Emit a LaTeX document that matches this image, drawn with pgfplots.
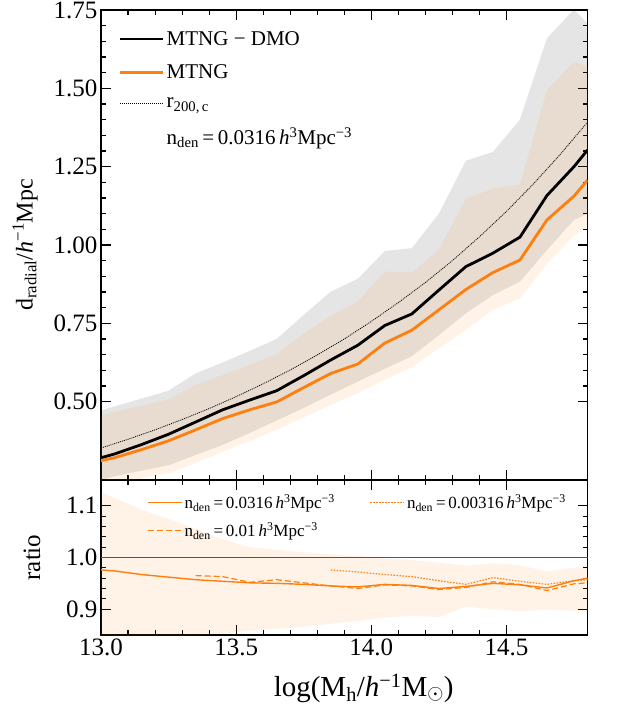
\documentclass[border=0pt]{standalone}
\usepackage{fontspec}
\setmainfont{Liberation Serif}
\usepackage{pgfplots}
\usepackage{pgfplotstable}
\pgfplotsset{compat=1.18}
\usepgfplotslibrary{fillbetween}

\definecolor{mtngorange}{RGB}{255,127,14}
\definecolor{unitline}{RGB}{85,85,85}

\newcommand{\hinv}{\textit{h}\textsuperscript{−1}}
\newcommand{\nden}[1]{n\textsubscript{den}\,=\,#1\,\textit{h}\textsuperscript{3}Mpc\textsuperscript{−3}}

% median radial distance and 16/84 percentiles per halo-mass bin
\pgfplotstableread{
x      dmo    dmolo  dmohi  mtng   mtnglo mtnghi
13.00  0.321  0.250  0.472  0.312  0.225  0.455
13.05  0.333  0.262  0.485  0.321  0.235  0.468
13.15  0.363  0.280  0.510  0.347  0.255  0.487
13.25  0.396  0.297  0.535  0.375  0.272  0.507
13.35  0.435  0.330  0.590  0.410  0.305  0.553
13.45  0.474  0.362  0.625  0.446  0.340  0.585
13.55  0.505  0.400  0.662  0.474  0.375  0.618
13.65  0.535  0.440  0.700  0.499  0.410  0.652
13.75  0.583  0.480  0.777  0.545  0.450  0.718
13.85  0.633  0.523  0.851  0.590  0.490  0.773
13.95  0.680  0.564  0.892  0.620  0.527  0.820
14.05  0.743  0.605  0.981  0.687  0.570  0.915
14.15  0.780  0.645  0.990  0.728  0.610  0.912
14.25  0.856  0.712  1.100  0.793  0.670  0.985
14.35  0.931  0.782  1.269  0.858  0.729  1.148
14.45  0.974  0.840  1.297  0.912  0.793  1.180
14.55  1.025  0.883  1.400  0.952  0.830  1.193
14.65  1.158  0.984  1.660  1.080  0.940  1.495
14.75  1.250  1.080  1.752  1.156  1.030  1.585
14.80  1.303  1.100  1.707  1.207  1.055  1.569
}\radial

% r_200,c of the halo mass
\pgfplotstableread{
x     r
13.0  0.352
13.1  0.380
13.2  0.410
13.3  0.443
13.4  0.478
13.5  0.516
13.6  0.557
13.7  0.601
13.8  0.649
13.9  0.700
14.0  0.756
14.1  0.816
14.2  0.880
14.3  0.950
14.4  1.026
14.5  1.107
14.6  1.195
14.7  1.290
14.8  1.392
}\rvir

% MTNG / MTNG-DMO ratio, scatter band
\pgfplotstableread{
x      lo     hi
13.00  0.820  1.127
13.05  0.826  1.115
13.15  0.835  1.092
13.25  0.842  1.075
13.35  0.848  1.055
13.45  0.853  1.035
13.55  0.858  1.020
13.65  0.862  1.015
13.75  0.866  1.010
13.85  0.872  1.006
13.95  0.877  1.003
14.05  0.884  0.998
14.15  0.887  0.995
14.25  0.885  0.990
14.35  0.905  0.984
14.45  0.900  0.989
14.55  0.896  0.985
14.65  0.899  0.973
14.75  0.897  0.980
14.80  0.896  0.979
}\ratioband

\pgfplotstableread{
x      r
13.00  0.976
13.05  0.974
13.15  0.967
13.25  0.962
13.35  0.957
13.45  0.954
13.55  0.951
13.65  0.950
13.75  0.948
13.85  0.945
13.95  0.943
14.05  0.948
14.15  0.946
14.25  0.940
14.35  0.944
14.45  0.950
14.55  0.947
14.65  0.941
14.75  0.955
14.80  0.960
}\ratioA

\pgfplotstableread{
x      r
13.35  0.965
13.45  0.963
13.55  0.952
13.65  0.957
13.75  0.951
13.85  0.945
13.95  0.940
14.05  0.947
14.15  0.945
14.25  0.938
14.35  0.942
14.45  0.953
14.55  0.948
14.65  0.936
14.75  0.949
14.80  0.951
}\ratioB

\pgfplotstableread{
x      r
13.85  0.976
13.95  0.972
14.05  0.967
14.15  0.963
14.25  0.955
14.35  0.948
14.45  0.961
14.55  0.954
14.65  0.948
14.75  0.955
14.80  0.957
}\ratioC

\pgfplotsset{
  panel/.style={
    scale only axis, width=486.5pt,
    xmin=13, xmax=14.8,
    xtick={13,13.5,14,14.5}, minor x tick num=4,
    tick align=inside,
    major tick length=10pt, minor tick length=5pt,
    tick style={black, line width=1.1pt},
    axis line style={line width=1.6pt},
    tick label style={font=\fontsize{25}{29}\selectfont},
    /pgf/number format/assume math mode=true,
    legend cell align=left,
  },
}

\begin{document}
\begin{tikzpicture}

\begin{axis}[
  panel,
  at={(0pt,155pt)}, anchor=south west, height=470pt,
  ymin=0.25, ymax=1.75,
  ytick={0.5,0.75,1.0,1.25,1.5,1.75}, minor y tick num=4,
  xticklabels={},
  yticklabel style={/pgf/number format/.cd, fixed, fixed zerofill, precision=2},
  ylabel={d\textsubscript{radial}/\hinv Mpc},
  ylabel style={font=\fontsize{24}{28}\selectfont,
    at={(axis description cs:-0.156,0.5)}, anchor=center},
  legend image code/.code={\draw[#1] (0pt,0pt) -- (43pt,0pt);},
  legend style={draw=none, fill=none, at={(axis description cs:0.02,0.985)},
    xshift=5pt, yshift=-10pt,
    anchor=north west, font=\fontsize{21}{25}\selectfont, row sep=14pt,
    nodes={inner xsep=2pt}},
]
  \addplot[name path=dmohi, draw=none, forget plot] table[x=x, y=dmohi] {\radial};
  \addplot[name path=dmolo, draw=none, forget plot] table[x=x, y=dmolo] {\radial};
  \addplot[black, fill opacity=0.1, draw=none, forget plot] fill between[of=dmohi and dmolo];
  \addplot[name path=mtnghi, draw=none, forget plot] table[x=x, y=mtnghi] {\radial};
  \addplot[name path=mtnglo, draw=none, forget plot] table[x=x, y=mtnglo] {\radial};
  \addplot[mtngorange, fill opacity=0.1, draw=none, forget plot] fill between[of=mtnghi and mtnglo];

  \addplot[black, line width=0.8pt, dash pattern=on 1pt off 1pt, forget plot] table[x=x, y=r] {\rvir};
  \addplot[black, line width=2.8pt, forget plot] table[x=x, y=dmo] {\radial};
  \addplot[mtngorange, line width=2.8pt, forget plot] table[x=x, y=mtng] {\radial};

  \addlegendimage{black, line width=2.8pt}
  \addlegendentry{MTNG − DMO}
  \addlegendimage{mtngorange, line width=2.8pt}
  \addlegendentry{MTNG}
  \addlegendimage{black, line width=0.8pt, dash pattern=on 1pt off 1pt}
  \addlegendentry{r\textsubscript{200,\,c}}
  \addlegendimage{empty legend}
  \addlegendentry{\nden{0.0316}}
\end{axis}

\begin{axis}[
  panel,
  at={(0pt,0pt)}, anchor=south west, height=155pt,
  ymin=0.85, ymax=1.15,
  ytick={0.9,1.0,1.1}, minor y tick num=4,
  xticklabel style={/pgf/number format/.cd, fixed, fixed zerofill, precision=1},
  yticklabel style={/pgf/number format/.cd, fixed, fixed zerofill, precision=1},
  xlabel={log(M\textsubscript{h}/\hinv M\textsubscript{$\odot$})},
  xlabel style={font=\fontsize{29}{34}\selectfont,
    at={(axis description cs:0.54,-0.342)}, anchor=center},
  ylabel={ratio},
  ylabel style={font=\fontsize{25}{30}\selectfont,
    at={(axis description cs:-0.142,0.5)}, anchor=center},
  legend image code/.code={\draw[draw=mtngorange, #1] (0pt,0pt) -- (34pt,0pt);},
  legend columns=2,
  legend style={draw=none, fill=none, at={(axis description cs:0.08,0.97)},
    xshift=4pt, yshift=-6pt,
    anchor=north west, font=\fontsize{17}{20}\selectfont, row sep=8pt,
    nodes={inner xsep=2pt},
    /tikz/every even column/.append style={column sep=33pt}},
]
  \addplot[name path=bhi, draw=none, forget plot] table[x=x, y=hi] {\ratioband};
  \addplot[name path=blo, draw=none, forget plot] table[x=x, y=lo] {\ratioband};
  \addplot[mtngorange, fill opacity=0.1, draw=none, forget plot] fill between[of=bhi and blo];

  \addplot[unitline, line width=1.2pt, forget plot] coordinates {(13,1) (14.8,1)};

  \addplot[mtngorange, line width=1.4pt, forget plot] table[x=x, y=r] {\ratioA};
  \addplot[mtngorange, line width=1.2pt, dash pattern=on 6pt off 3pt, forget plot] table[x=x, y=r] {\ratioB};
  \addplot[mtngorange, line width=1.2pt, dash pattern=on 1.5pt off 1.5pt, forget plot] table[x=x, y=r] {\ratioC};

  \addlegendimage{draw=mtngorange, line width=1.4pt}
  \addlegendentry{\nden{0.0316}}
  \addlegendimage{draw=mtngorange, line width=1.2pt, dash pattern=on 1.5pt off 1.5pt}
  \addlegendentry{\nden{0.00316}}
  \addlegendimage{draw=mtngorange, line width=1.2pt, dash pattern=on 6pt off 3pt}
  \addlegendentry{\nden{0.01}}
\end{axis}

% fix the page to the full figure frame
\pgfresetboundingbox
\useasboundingbox (-101pt,-71pt) rectangle (542pt,635pt);
\end{tikzpicture}
\end{document}
